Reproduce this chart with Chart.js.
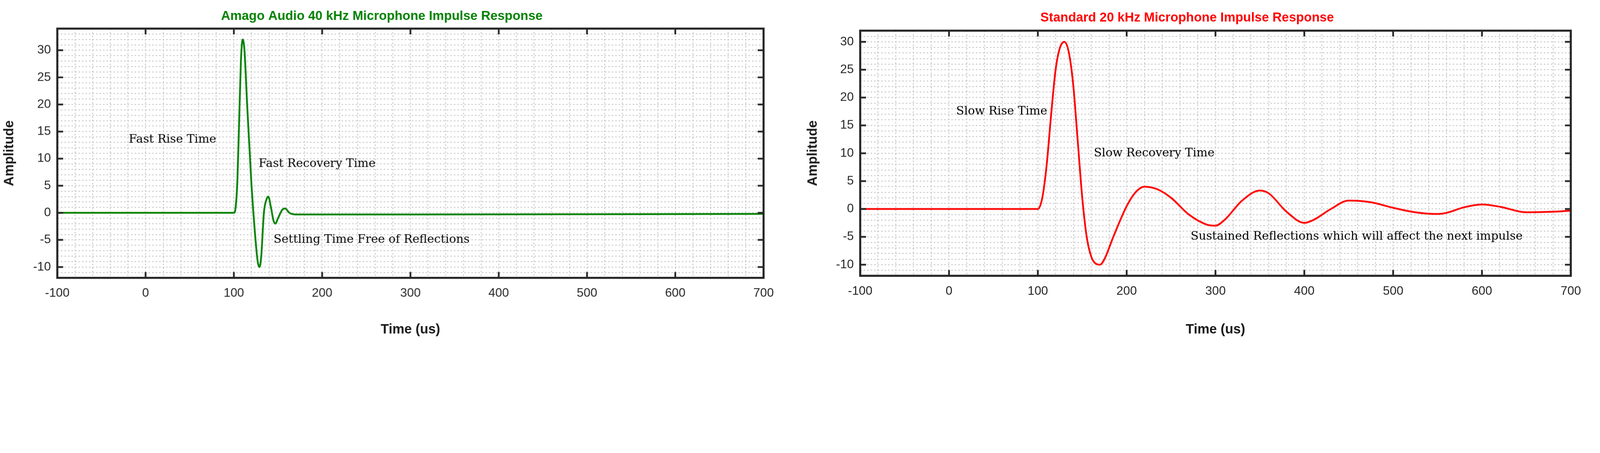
<!DOCTYPE html>
<html><head><meta charset="utf-8">
<script src="https://cdn.jsdelivr.net/npm/chart.js@4/dist/chart.umd.min.js"></script>
<style>html,body{margin:0;padding:0;background:#fff;overflow:hidden}
.c{position:absolute;top:0}</style></head><body>
<div class="c" id="da"><canvas id="a"></canvas></div>
<div class="c" id="db"><canvas id="b"></canvas></div>
<script>
const leftTime=[-100,100,102,104,106,108,110,112,115,120,124,127,129,131,134,137,139,142,145,147,150,155,158,163,170,300,700];
const leftAmp=[0,0,1,6,17,28,32,30,20,5,-4,-9,-10,-8,0,2.5,3,1,-1.5,-2,-1,0.6,0.8,0,-0.3,-0.3,-0.2];
const rightTime=[-100,100,105,110,115,120,125,130,135,140,145,150,155,160,165,170,175,185,200,210,220,235,250,270,290,300,310,330,350,360,380,400,410,430,450,475,500,525,550,560,580,600,620,650,680,700];
const rightAmp=[0,0,2,8,17,25,29,30,28,22,12,2,-5,-8.5,-9.8,-10,-9,-5,0.5,3,4,3.5,2,-1,-2.8,-3,-2,1.5,3.3,2.8,-0.5,-2.5,-2,0,1.5,1.2,0.2,-0.6,-0.9,-0.7,0.3,0.8,0.4,-0.6,-0.5,-0.3];
const leftNotes=[["Fast Rise Time",-19,13.5],["Fast Recovery Time",128,9],["Settling Time Free of Reflections",145,-5]];
const rightNotes=[["Slow Rise Time",8,17.5],["Slow Recovery Time",163,10],["Sustained Reflections which will affect the next impulse",272,-5]];
const xTicks=[-100,0,100,200,300,400,500,600,700];

const S=window.innerWidth/5476;
const H=window.innerHeight||1160*S;
const da=document.getElementById('da'),db=document.getElementById('db');
da.style.left='0px';da.style.width=(2680*S)+'px';da.style.height=(1160*S)+'px';
db.style.left=(2750*S)+'px';db.style.width=(2726*S)+'px';db.style.height=(1160*S)+'px';

const deco={id:'deco',afterDraw(c){
  const {ctx,chartArea:a,scales:{x,y}}=c;const o=c.options.plugins.deco;
  ctx.save();ctx.strokeStyle='#262626';ctx.lineWidth=6*S;
  ctx.beginPath();const L=20*S;
  xTicks.forEach(v=>{const p=x.getPixelForValue(v);ctx.moveTo(p,a.bottom);ctx.lineTo(p,a.bottom-L);ctx.moveTo(p,a.top);ctx.lineTo(p,a.top+L);});
  for(let v=-10;v<=30;v+=5){const p=y.getPixelForValue(v);ctx.moveTo(a.left,p);ctx.lineTo(a.left+L,p);ctx.moveTo(a.right,p);ctx.lineTo(a.right-L,p);}
  ctx.stroke();ctx.lineWidth=7*S;ctx.strokeRect(a.left,a.top,a.right-a.left,a.bottom-a.top);
  ctx.fillStyle='#000';ctx.font=(40*S)+'px "DejaVu Serif", "Liberation Serif", serif';ctx.textBaseline='middle';
  o.notes.forEach(n=>ctx.fillText(n[0],x.getPixelForValue(n[1]),y.getPixelForValue(n[2])));
  ctx.restore();}};

function mk(id,t,v,color,title,ymin,ymax,notes,padR,yw,xh,tt,tb){
  new Chart(document.getElementById(id),{type:'line',
    data:{datasets:[{data:t.map((q,i)=>({x:q,y:v[i]})),borderColor:color,borderWidth:6*S,pointRadius:0,cubicInterpolationMode:'monotone',fill:false}]},
    options:{responsive:true,maintainAspectRatio:false,animation:false,
      layout:{padding:{left:0,right:padR*S,top:0,bottom:0}},
      plugins:{legend:{display:false},tooltip:{enabled:false},deco:{notes},
        title:{display:true,text:title,color,font:{family:'Arial, "Liberation Sans"',size:44*S,weight:'bold'},padding:{top:tt*S,bottom:tb*S}}},
      scales:{
        x:{type:'linear',min:-100,max:700,afterFit(s){s.height=xh*S},
          ticks:{stepSize:20,autoSkip:false,maxRotation:0,color:'#262626',font:{family:'Arial, "Liberation Sans"',size:42*S},padding:28*S,callback:q=>q%100===0?String(q):''},
          grid:{color:'#c4c4c4',lineWidth:3*S,drawTicks:false},border:{display:false,dash:[5*S,7*S]},
          title:{display:true,text:'Time (us)',color:'#1a1a1a',font:{family:'Arial, "Liberation Sans"',size:46*S,weight:'bold'},padding:{top:6*S}}},
        y:{min:ymin,max:ymax,afterFit(s){s.width=yw*S},
          ticks:{stepSize:1,autoSkip:false,color:'#262626',font:{family:'Arial, "Liberation Sans"',size:42*S},padding:22*S,callback:q=>q%5===0?String(q):''},
          grid:{color:'#c4c4c4',lineWidth:3*S,drawTicks:false},border:{display:false,dash:[5*S,7*S]},
          title:{display:true,text:'Amplitude',color:'#1a1a1a',font:{family:'Arial, "Liberation Sans"',size:46*S,weight:'bold'},padding:{bottom:8*S}}}}},
    plugins:[deco]});
}
mk('a',leftTime,leftAmp,'#008000','Amago Audio 40 kHz Microphone Impulse Response',-12,34,leftNotes,68,196,210,30,15);
mk('b',rightTime,rightAmp,'#ff0000','Standard 20 kHz Microphone Impulse Response',-12,32,rightNotes,100,194,217,35,17);
</script></body></html>
